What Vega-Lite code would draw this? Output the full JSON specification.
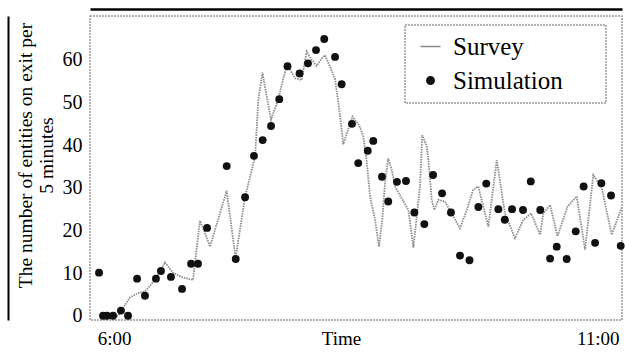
{
  "$schema": "https://vega.github.io/schema/vega-lite/v6.json",
  "width": 532,
  "height": 304,
  "autosize": {"type": "none"},
  "padding": {"left": 90, "top": 16, "right": 3, "bottom": 32},
  "background": "white",
  "config": {
    "view": {"stroke": "#9a9a9a", "strokeDash": [2, 1], "strokeWidth": 1.5},
    "font": "Liberation Serif",
    "axis": {
      "labelFont": "Liberation Serif",
      "titleFont": "Liberation Serif",
      "labelColor": "#000000",
      "titleColor": "#000000",
      "titleFontWeight": "normal",
      "domain": false,
      "ticks": false,
      "grid": false
    }
  },
  "datasets": {
    "survey": [
      {"t": -9.4, "n": 0, "series": "Survey"},
      {"t": 2.4, "n": 0, "series": "Survey"},
      {"t": 9.8, "n": 4.3, "series": "Survey"},
      {"t": 14.8, "n": 5.3, "series": "Survey"},
      {"t": 19.1, "n": 5.7, "series": "Survey"},
      {"t": 25.3, "n": 8.4, "series": "Survey"},
      {"t": 31.5, "n": 12.5, "series": "Survey"},
      {"t": 36.5, "n": 10.1, "series": "Survey"},
      {"t": 41.5, "n": 9.1, "series": "Survey"},
      {"t": 48.9, "n": 8.4, "series": "Survey"},
      {"t": 53.2, "n": 22.3, "series": "Survey"},
      {"t": 56.3, "n": 19.4, "series": "Survey"},
      {"t": 59.4, "n": 16.2, "series": "Survey"},
      {"t": 69.8, "n": 29.3, "series": "Survey"},
      {"t": 75.3, "n": 13.5, "series": "Survey"},
      {"t": 81.2, "n": 27.9, "series": "Survey"},
      {"t": 87.4, "n": 37.3, "series": "Survey"},
      {"t": 89.4, "n": 50.6, "series": "Survey"},
      {"t": 92.0, "n": 57.0, "series": "Survey"},
      {"t": 94.6, "n": 51.4, "series": "Survey"},
      {"t": 97.3, "n": 46.0, "series": "Survey"},
      {"t": 101.6, "n": 50.6, "series": "Survey"},
      {"t": 107.2, "n": 59.0, "series": "Survey"},
      {"t": 112.2, "n": 55.7, "series": "Survey"},
      {"t": 116.3, "n": 55.3, "series": "Survey"},
      {"t": 119.4, "n": 62.0, "series": "Survey"},
      {"t": 122.5, "n": 60.0, "series": "Survey"},
      {"t": 125.6, "n": 58.6, "series": "Survey"},
      {"t": 128.7, "n": 60.3, "series": "Survey"},
      {"t": 130.8, "n": 61.1, "series": "Survey"},
      {"t": 133.9, "n": 58.4, "series": "Survey"},
      {"t": 137.0, "n": 55.5, "series": "Survey"},
      {"t": 140.1, "n": 47.0, "series": "Survey"},
      {"t": 142.1, "n": 40.2, "series": "Survey"},
      {"t": 147.8, "n": 46.7, "series": "Survey"},
      {"t": 152.2, "n": 44.5, "series": "Survey"},
      {"t": 154.5, "n": 42.0, "series": "Survey"},
      {"t": 156.7, "n": 36.0, "series": "Survey"},
      {"t": 158.7, "n": 28.0, "series": "Survey"},
      {"t": 161.8, "n": 22.5, "series": "Survey"},
      {"t": 164.3, "n": 16.2, "series": "Survey"},
      {"t": 166.3, "n": 22.5, "series": "Survey"},
      {"t": 168.0, "n": 31.0, "series": "Survey"},
      {"t": 169.9, "n": 36.9, "series": "Survey"},
      {"t": 172.2, "n": 34.2, "series": "Survey"},
      {"t": 174.2, "n": 30.3, "series": "Survey"},
      {"t": 178.4, "n": 27.5, "series": "Survey"},
      {"t": 182.5, "n": 24.8, "series": "Survey"},
      {"t": 185.6, "n": 16.0, "series": "Survey"},
      {"t": 189.7, "n": 30.3, "series": "Survey"},
      {"t": 191.1, "n": 42.4, "series": "Survey"},
      {"t": 193.9, "n": 39.7, "series": "Survey"},
      {"t": 194.9, "n": 36.5, "series": "Survey"},
      {"t": 197.0, "n": 27.2, "series": "Survey"},
      {"t": 198.6, "n": 24.8, "series": "Survey"},
      {"t": 201.1, "n": 27.2, "series": "Survey"},
      {"t": 205.2, "n": 26.8, "series": "Survey"},
      {"t": 210.4, "n": 23.3, "series": "Survey"},
      {"t": 214.5, "n": 20.5, "series": "Survey"},
      {"t": 218.9, "n": 25.0, "series": "Survey"},
      {"t": 222.6, "n": 29.5, "series": "Survey"},
      {"t": 225.9, "n": 30.3, "series": "Survey"},
      {"t": 232.1, "n": 20.9, "series": "Survey"},
      {"t": 237.3, "n": 36.5, "series": "Survey"},
      {"t": 242.4, "n": 24.0, "series": "Survey"},
      {"t": 248.6, "n": 18.2, "series": "Survey"},
      {"t": 253.8, "n": 22.5, "series": "Survey"},
      {"t": 258.6, "n": 24.0, "series": "Survey"},
      {"t": 264.2, "n": 19.0, "series": "Survey"},
      {"t": 266.2, "n": 24.0, "series": "Survey"},
      {"t": 270.4, "n": 26.0, "series": "Survey"},
      {"t": 275.0, "n": 18.6, "series": "Survey"},
      {"t": 281.2, "n": 25.6, "series": "Survey"},
      {"t": 286.9, "n": 28.0, "series": "Survey"},
      {"t": 292.1, "n": 15.5, "series": "Survey"},
      {"t": 297.2, "n": 33.0, "series": "Survey"},
      {"t": 302.4, "n": 30.0, "series": "Survey"},
      {"t": 308.6, "n": 19.0, "series": "Survey"},
      {"t": 314.8, "n": 25.4, "series": "Survey"}
    ],
    "sim": [
      {"t": -9.4, "n": 10.1, "series": "Simulation"},
      {"t": -6.9, "n": 0, "series": "Simulation"},
      {"t": -4.5, "n": 0, "series": "Simulation"},
      {"t": -0.7, "n": 0, "series": "Simulation"},
      {"t": 4.2, "n": 1.2, "series": "Simulation"},
      {"t": 8.6, "n": 0, "series": "Simulation"},
      {"t": 14.2, "n": 8.7, "series": "Simulation"},
      {"t": 19.1, "n": 4.7, "series": "Simulation"},
      {"t": 25.9, "n": 8.7, "series": "Simulation"},
      {"t": 29.0, "n": 10.5, "series": "Simulation"},
      {"t": 35.2, "n": 9.1, "series": "Simulation"},
      {"t": 42.1, "n": 6.3, "series": "Simulation"},
      {"t": 47.7, "n": 12.2, "series": "Simulation"},
      {"t": 52.0, "n": 12.2, "series": "Simulation"},
      {"t": 57.6, "n": 20.6, "series": "Simulation"},
      {"t": 69.8, "n": 35.1, "series": "Simulation"},
      {"t": 75.4, "n": 13.3, "series": "Simulation"},
      {"t": 81.2, "n": 27.8, "series": "Simulation"},
      {"t": 86.7, "n": 37.5, "series": "Simulation"},
      {"t": 92.1, "n": 41.2, "series": "Simulation"},
      {"t": 97.3, "n": 44.5, "series": "Simulation"},
      {"t": 102.4, "n": 50.8, "series": "Simulation"},
      {"t": 107.5, "n": 58.5, "series": "Simulation"},
      {"t": 115.0, "n": 56.8, "series": "Simulation"},
      {"t": 120.2, "n": 59.2, "series": "Simulation"},
      {"t": 125.2, "n": 62.3, "series": "Simulation"},
      {"t": 130.3, "n": 64.9, "series": "Simulation"},
      {"t": 137.0, "n": 60.7, "series": "Simulation"},
      {"t": 141.1, "n": 54.3, "series": "Simulation"},
      {"t": 147.5, "n": 45.0, "series": "Simulation"},
      {"t": 151.4, "n": 35.8, "series": "Simulation"},
      {"t": 157.3, "n": 38.7, "series": "Simulation"},
      {"t": 160.7, "n": 41.0, "series": "Simulation"},
      {"t": 166.1, "n": 32.6, "series": "Simulation"},
      {"t": 170.0, "n": 26.8, "series": "Simulation"},
      {"t": 175.4, "n": 31.4, "series": "Simulation"},
      {"t": 181.0, "n": 31.6, "series": "Simulation"},
      {"t": 186.2, "n": 24.2, "series": "Simulation"},
      {"t": 192.4, "n": 21.5, "series": "Simulation"},
      {"t": 197.8, "n": 33.0, "series": "Simulation"},
      {"t": 203.4, "n": 28.7, "series": "Simulation"},
      {"t": 208.9, "n": 24.2, "series": "Simulation"},
      {"t": 214.5, "n": 14.1, "series": "Simulation"},
      {"t": 220.4, "n": 13.0, "series": "Simulation"},
      {"t": 225.9, "n": 25.5, "series": "Simulation"},
      {"t": 230.8, "n": 31.0, "series": "Simulation"},
      {"t": 238.3, "n": 25.0, "series": "Simulation"},
      {"t": 242.3, "n": 22.5, "series": "Simulation"},
      {"t": 246.8, "n": 25.0, "series": "Simulation"},
      {"t": 253.6, "n": 24.8, "series": "Simulation"},
      {"t": 258.4, "n": 31.5, "series": "Simulation"},
      {"t": 264.3, "n": 24.8, "series": "Simulation"},
      {"t": 270.4, "n": 13.4, "series": "Simulation"},
      {"t": 274.5, "n": 16.2, "series": "Simulation"},
      {"t": 280.7, "n": 13.3, "series": "Simulation"},
      {"t": 286.3, "n": 19.8, "series": "Simulation"},
      {"t": 291.2, "n": 30.3, "series": "Simulation"},
      {"t": 298.3, "n": 17.1, "series": "Simulation"},
      {"t": 302.2, "n": 31.1, "series": "Simulation"},
      {"t": 308.2, "n": 28.2, "series": "Simulation"},
      {"t": 314.2, "n": 16.4, "series": "Simulation"}
    ]
  },
  "resolve": {"axis": {"x": "independent", "y": "independent"}},
  "layer": [
    {
      "data": {"name": "survey"},
      "mark": {"type": "line", "strokeWidth": 1.8, "strokeDash": [1.5, 1]},
      "encoding": {
        "x": {
          "field": "t",
          "type": "quantitative",
          "scale": {"domain": [-15, 315], "nice": false, "zero": false},
          "axis": {
            "values": [0, 300],
            "labelExpr": "datum.value == 0 ? '6:00' : '11:00'",
            "labelFont": "Liberation Serif",
            "labelFontSize": 19,
            "labelPadding": 9,
            "labelFlush": false,
            "title": "Time",
            "titleFont": "Liberation Serif",
            "titleFontSize": 19,
            "titleX": 251,
            "titleY": 9,
            "titleBaseline": "top",
            "titleAlign": "center"
          }
        },
        "y": {
          "field": "n",
          "type": "quantitative",
          "scale": {"domain": [-1, 70.3], "nice": false, "zero": false},
          "axis": {
            "values": [0, 10, 20, 30, 40, 50, 60],
            "labelFont": "Liberation Serif",
            "labelFontSize": 20,
            "labelPadding": 8,
            "title": ["The number of entities on exit per", "5 minutes"],
            "titleFont": "Liberation Serif",
            "titleFontSize": 19.5,
            "titleLineHeight": 21,
            "titleAngle": -90,
            "titleAlign": "center",
            "titleBaseline": "middle",
            "titleX": -65,
            "titleY": 139
          }
        },
        "color": {
          "field": "series",
          "type": "nominal",
          "scale": {"domain": ["Survey", "Simulation"], "range": ["#8c8c8c", "#111111"]},
          "legend": {
            "title": "\u00a0",
            "titleOrient": "right",
            "titlePadding": 34,
            "titleFontSize": 10,
            "orient": "none",
            "legendX": 315,
            "legendY": 9,
            "padding": 9,
            "symbolOffset": 4,
            "labelFont": "Liberation Serif",
            "labelFontSize": 25,
            "labelColor": "#000000",
            "labelOffset": 10,
            "rowPadding": 8,
            "symbolSize": 400,
            "symbolType": "stroke",
            "strokeColor": "#9a9a9a",
            "fillColor": "white",
            "encode": {
              "legend": {
                "update": {
                  "strokeDash": {"value": [2, 1]},
                  "strokeWidth": {"value": 1.5}
                }
              },
              "symbols": {
                "update": {
                  "shape": {"signal": "datum.value === 'Survey' ? 'stroke' : 'circle'"},
                  "size": {"signal": "datum.value === 'Survey' ? 400 : 55"},
                  "fill": {"signal": "datum.value === 'Survey' ? 'transparent' : '#111111'"},
                  "stroke": {"signal": "datum.value === 'Survey' ? '#8c8c8c' : '#111111'"},
                  "strokeWidth": {"value": 1.5},
                  "opacity": {"value": 1}
                }
              }
            }
          }
        }
      }
    },
    {
      "data": {"name": "sim"},
      "mark": {"type": "point", "filled": true, "size": 62, "opacity": 1},
      "encoding": {
        "x": {
          "field": "t",
          "type": "quantitative",
          "axis": {
            "orient": "top",
            "offset": 7,
            "domain": true,
            "domainColor": "#000000",
            "domainWidth": 2.5,
            "labels": false,
            "ticks": false,
            "title": null
          }
        },
        "y": {
          "field": "n",
          "type": "quantitative",
          "axis": {
            "orient": "left",
            "offset": 82,
            "domain": true,
            "domainColor": "#000000",
            "domainWidth": 2,
            "labels": false,
            "ticks": false,
            "title": null
          }
        },
        "color": {"field": "series", "type": "nominal"}
      }
    }
  ]
}
